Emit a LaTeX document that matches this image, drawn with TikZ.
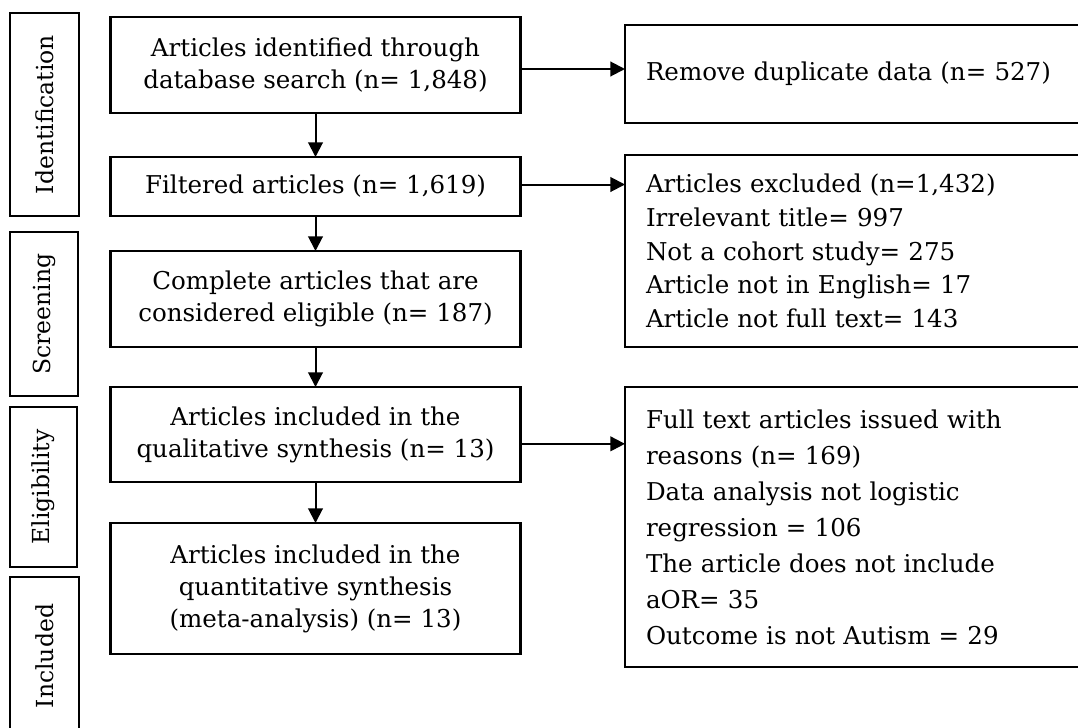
\documentclass[tikz,border=0pt]{standalone}
\usepackage{fontspec}
\setmainfont{DejaVu Serif}
\usetikzlibrary{arrows.meta}
\newcommand{\px}{0.75pt}

\begin{document}
\begin{tikzpicture}[x=0.75pt, y=-0.75pt, outer sep=0pt]
\useasboundingbox[fill=white] (0,0) rectangle (1078,728);

\tikzstyle{stage}=[draw, line width=2pt, rectangle, rotate=90, inner sep=0pt, font=\fontsize{17.6}{21}\selectfont]
\tikzstyle{box}=[draw, line width=2pt, rectangle, align=center, inner sep=0pt, minimum width=410*\px, font=\fontsize{18.4}{24}\selectfont]
\tikzstyle{note}=[draw, line width=2pt, rectangle, align=left, inner xsep=21*\px, inner ysep=0pt, text width=428*\px, minimum width=470*\px]
\tikzstyle{arr}=[line width=1.5pt, -{Triangle[length=11pt, width=11pt]}]

% phases on the left
\node[stage, minimum width=203*\px, minimum height=69*\px] (ident) at (44.5,114.5) {Identification};
\node[stage, minimum width=164*\px, minimum height=68*\px] (screen) at (44,314) {Screening};
\node[stage, minimum width=160*\px, minimum height=67*\px] (elig) at (43.5,487) {Eligibility};
\node[stage, minimum width=158*\px, minimum height=69*\px] (incl) at (44.5,656) {Included};

% main flow
\node[box, minimum height=96*\px] (ident1) at (315.5,65) {Articles identified through\\database search (n= 1,848)};
\node[box, minimum height=59*\px] (filt) at (315.5,186.5) {Filtered articles (n= 1,619)};
\node[box, minimum height=96*\px] (compl) at (315.5,299) {Complete articles that are\\considered eligible (n= 187)};
\node[box, minimum height=95*\px] (qual) at (315.5,434.5) {Articles included in the\\qualitative synthesis (n= 13)};
\node[box, minimum height=131*\px] (quant) at (315.5,588.5) {Articles included in the\\quantitative synthesis\\(meta-analysis) (n= 13)};

% excluded records on the right
\node[note, minimum height=98*\px, font=\fontsize{18.4}{24}\selectfont] (dupl) at (860,74) {Remove duplicate data (n= 527)};
\node[note, minimum height=192*\px, font=\fontsize{18.4}{25.3}\selectfont] (excl) at (860,251) {Articles excluded (n=1,432)\\Irrelevant title= 997\\Not a cohort study= 275\\Article not in English= 17\\Article not full text= 143};
\node[note, minimum height=280*\px, font=\fontsize{18.4}{27}\selectfont] (full) at (860,527) {Full text articles issued with\\reasons (n= 169)\\Data analysis not logistic\\regression = 106\\The article does not include\\aOR= 35\\Outcome is not Autism = 29};

\draw[arr] (ident1) -- (filt);
\draw[arr] (filt) -- (compl);
\draw[arr] (compl) -- (qual);
\draw[arr] (qual) -- (quant);
\draw[arr] ([yshift=-3pt]ident1.east) -- ([yshift=-3pt]ident1.east -| dupl.west);
\draw[arr] ([yshift=1.5pt]filt.east) -- ([yshift=1.5pt]filt.east -| excl.west);
\draw[arr] ([yshift=-7pt]qual.east) -- ([yshift=-7pt]qual.east -| full.west);
\end{tikzpicture}
\end{document}
